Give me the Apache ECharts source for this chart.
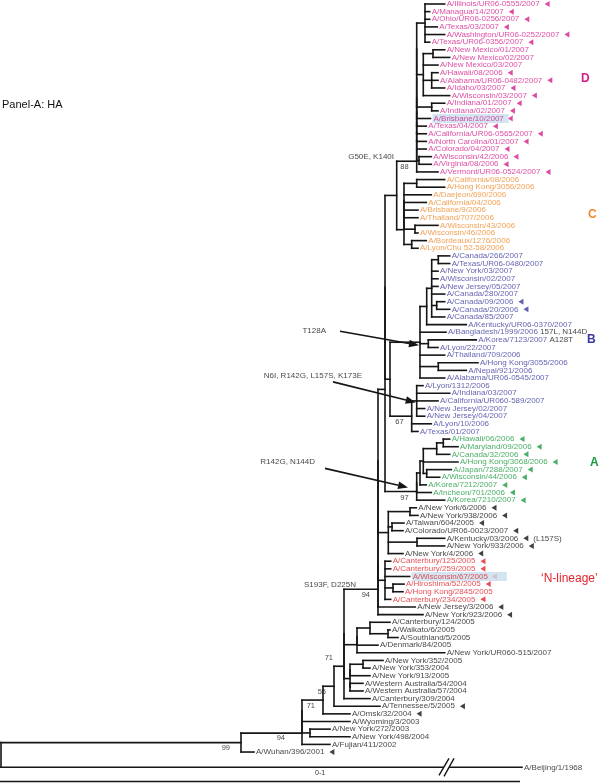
<!DOCTYPE html>
<html><head><meta charset="utf-8">
<script src="https://cdn.jsdelivr.net/npm/echarts@6/dist/echarts.min.js"></script>
<style>html,body{margin:0;padding:0;background:#fff}#c{width:600px;height:783px}</style>
</head><body><div id="c"></div>
<script>
// ================= DATA =================
// internal nodes: [id, parent, depth position on the distance axis]
const nodes = [
 ['root', null, 1],
 ['U1','root',241], ['U2','U1',302], ['U3','U2',302], ['U4','U3',302], ['NYq','U3',310],
 ['N71b','U4',323], ['N55','N71b',334], ['N71c','N55',344], ['Nz','N71c',344],
 ['CWSD','Nz',357], ['CWSD1','CWSD',357], ['CWS','CWSD1',370], ['WS','CWS',388],
 ['NYWA','Nz',350], ['NYg','NYWA',350], ['NY352p','NYg',363], ['WAg','NYWA',350],
 ['L6','Nz',378], ['L5','L6',378], ['L4','L5',378], ['L3','L4',378], ['L2','L3',385], ['L1','L2',385],
 ['R','L4',385], ['HH','R',393],
 ['K1','L3',388.3], ['NYp','K1',410], ['TC','K1',392], ['KN','K1',417],
 ['A','L2',416.7], ['A1','A',416.7], ['A2','A1',420], ['A3','A2',423.3], ['Ah','A3',436.7], ['HM','Ah',443.3], ['JW','A3',426.7],
 ['B','L1',390], ['B1','B',420], ['Bk','B1',426.7], ['Bc','Bk',431.7], ['CT','Bc',438.3], ['C09','Bc',436.7],
 ['KL','B1',428.3], ['HN','B1',438.3], ['B2','B',411.7], ['B2a','B2',416.7],
 ['DC','L1',396.7], ['C','DC',404], ['C1','C',404], ['C2','C1',404], ['CH','C2',416.7], ['WI','C1',415], ['BL','C',411.7],
 ['D','DC',416.7], ['D1','D',416.7], ['D2','D1',416.7], ['D3','D2',416.7], ['D4','D3',416.7], ['D5','D4',416.7],
 ['D6','D5',416.7], ['D7','D6',416.7], ['D8','D7',416.7], ['G1','D8',425], ['G2','D8',423.3],
 ['NMp','G2',433], ['HAI','G2',431.7], ['IND','D7',431.7], ['WV','D1',419]
];

// leaves in display order: [name, parent node, tip position, lineage, marked]
const leaves = [
 ['A/Illinois/UR06-0555/2007','G1',444.7,'D',1],
 ['A/Managua/14/2007','G1',429.7,'D',1],
 ['A/Ohio/UR06-0256/2007','G1',429.7,'D',1],
 ['A/Texas/03/2007','G1',437.3,'D',1],
 ['A/Washington/UR06-0252/2007','G1',444.7,'D',1],
 ['A/Texas/UR06-0356/2007','G1',429.7,'D',1],
 ['A/New Mexico/01/2007','NMp',444.7,'D',0],
 ['A/New Mexico/02/2007','NMp',449.7,'D',0],
 ['A/New Mexico/03/2007','G2',438,'D',0],
 ['A/Hawaii/08/2006','HAI',438,'D',1],
 ['A/Alabama/UR06-0482/2007','HAI',438,'D',1],
 ['A/Idaho/03/2007','HAI',444.7,'D',1],
 ['A/Wisconsin/03/2007','G2',449.7,'D',1],
 ['A/Indiana/01/2007','IND',444.7,'D',1],
 ['A/Indiana/02/2007','IND',438,'D',1],
 ['A/Brisbane/10/2007','D6',430.5,'D',1],
 ['A/Texas/04/2007','D5',426.3,'D',1],
 ['A/California/UR06-0565/2007','D4',426.3,'D',1],
 ['A/North Carolina/01/2007','D3',426.3,'D',1],
 ['A/Colorado/04/2007','D2',426.3,'D',1],
 ['A/Wisconsin/42/2006','WV',431.3,'D',1],
 ['A/Virginia/08/2006','WV',431.3,'D',1],
 ['A/Vermont/UR06-0524/2007','D',438,'D',1],
 ['A/California/08/2006','CH',444.7,'C',0],
 ['A/Hong Kong/3056/2006','CH',444.7,'C',0],
 ['A/Daejeon/690/2006','C2',431.3,'C',0],
 ['A/California/04/2006','C2',426.3,'C',0],
 ['A/Brisbane/9/2006','C2',418,'C',0],
 ['A/Thailand/707/2006','C2',418,'C',0],
 ['A/Wisconsin/43/2006','WI',438,'C',0],
 ['A/Wisconsin/46/2006','WI',418,'C',0],
 ['A/Bordeaux/1276/2006','BL',426.3,'C',0],
 ['A/Lyon/Chu 52-58/2006','BL',418,'C',0],
 ['A/Canada/266/2007','CT',449.7,'B',0],
 ['A/Texas/UR06-0480/2007','CT',449.7,'B',0],
 ['A/New York/03/2007','Bc',438,'B',0],
 ['A/Wisconsin/02/2007','Bc',438,'B',0],
 ['A/New Jersey/05/2007','Bc',438,'B',0],
 ['A/Canada/280/2007','Bc',444.7,'B',0],
 ['A/Canada/09/2006','C09',444.7,'B',1],
 ['A/Canada/20/2006','C09',449.7,'B',1],
 ['A/Canada/85/2007','Bc',444.7,'B',0],
 ['A/Kentucky/UR06-0370/2007','Bk',466.3,'B',0],
 ['A/Bangladesh/1999/2006','B1',446,'B',0],
 ['A/Korea/7123/2007','KL',476.3,'B',0],
 ['A/Lyon/22/2007','KL',438,'B',0],
 ['A/Thailand/709/2006','B1',444.7,'B',0],
 ['A/Hong Kong/3055/2006','HN',478,'B',0],
 ['A/Nepal/921/2006','HN',466.3,'B',0],
 ['A/Alabama/UR06-0545/2007','B1',444.7,'B',0],
 ['A/Lyon/1312/2006','B2a',423,'B',0],
 ['A/Indiana/03/2007','B2a',449.7,'B',0],
 ['A/California/UR060-589/2007','B2a',438,'B',0],
 ['A/New Jersey/02/2007','B2a',424.7,'B',0],
 ['A/New Jersey/04/2007','B2a',424.7,'B',0],
 ['A/Lyon/10/2006','B2',431.3,'B',0],
 ['A/Texas/01/2007','B2',418,'B',0],
 ['A/Hawaii/06/2006','HM',449.7,'A',1],
 ['A/Maryland/09/2006','HM',458,'A',1],
 ['A/Canada/32/2006','Ah',449.7,'A',1],
 ['A/Hong Kong/3068/2006','A3',458,'A',1],
 ['A/Japan/7288/2007','JW',451.3,'A',1],
 ['A/Wisconsin/44/2006','JW',439.7,'A',1],
 ['A/Korea/7212/2007','A2',426.3,'A',1],
 ['A/Incheon/701/2006','A1',431.3,'A',1],
 ['A/Korea/7210/2007','A',444.7,'A',1],
 ['A/New York/6/2006','NYp',416.3,'K',1],
 ['A/New York/938/2006','NYp',418,'K',1],
 ['A/Taiwan/604/2005','TC',404,'K',1],
 ['A/Colorado/UR06-0023/2007','TC',403,'K',1],
 ['A/Kentucky/03/2006','KN',444.7,'K',1],
 ['A/New York/933/2006','KN',444.7,'K',1],
 ['A/New York/4/2006','K1',403,'K',1],
 ['A/Canterbury/125/2005','R',390.7,'N',1],
 ['A/Canterbury/259/2005','R',390.7,'N',1],
 ['A/Wisconsin/67/2005','R',409.7,'N',1],
 ['A/Hiroshima/52/2005','HH',404,'N',1],
 ['A/Hong Kong/2845/2005','HH',403,'N',0],
 ['A/Canterbury/234/2005','R',390.7,'N',1],
 ['A/New Jersey/3/2006','L5',415.3,'K',1],
 ['A/New York/923/2006','L6',423,'K',1],
 ['A/Canterbury/124/2005','CWS',390,'K',0],
 ['A/Waikato/6/2005','WS',390,'K',0],
 ['A/Southland/5/2005','WS',398,'K',0],
 ['A/Denmark/84/2005','CWSD1',378,'K',0],
 ['A/New York/UR060-515/2007','CWSD',444.7,'K',0],
 ['A/New York/352/2005','NY352p',383,'K',0],
 ['A/New York/353/2004','NY352p',370,'K',0],
 ['A/New York/913/2005','NYg',370,'K',0],
 ['A/Western Australia/54/2004','WAg',363,'K',0],
 ['A/Western Australia/57/2004','WAg',363,'K',0],
 ['A/Canterbury/309/2004','N71c',370,'K',0],
 ['A/Tennessee/5/2005','N55',380,'K',1],
 ['A/Omsk/32/2004','N71b',350,'K',1],
 ['A/Wyoming/3/2003','U4',350,'K',0],
 ['A/New York/272/2003','NYq',330,'K',0],
 ['A/New York/498/2004','NYq',350,'K',0],
 ['A/Fujian/411/2002','U2',330,'K',0],
 ['A/Wuhan/396/2001','U1',254,'K',1],
 ['A/Beijing/1/1968','root',522,'K',0]
];

// notes written after some strain names
const noteLeaf = ['A/Bangladesh/1999/2006','A/Korea/7123/2007'];
const noteText = ['157L, N144D','A128T'];
const postMarkLeaf = ['A/Kentucky/03/2006'];
const postMarkText = ['(L157S)'];
const highlighted = ['A/Brisbane/10/2007','A/Wisconsin/67/2005'];

// bootstrap support values
const bootNode = ['U1','U2','N71b','N55','N71c','L6','A','B2','D'];
const bootValue = [99,94,71,55,71,94,97,67,88];

// amino-acid changes on branches
const mutText = ['G50E, K140I','S193F, D225N','T128A','N6I, R142G, L157S, K173E','R142G, N144D'];
const mutNode = ['D','L6','B1','B2a','A'];

// scale bar
const scaleLen = 520, scaleLabel = '0-1';

// ================= STYLE / LAYOUT =================
const colors = {D:'#d61d8c', C:'#f08a2c', B:'#3b399e', A:'#1c9a40', N:'#e4222b', K:'#111111'};
const FONT = '"Liberation Sans", Arial, Helvetica, sans-serif';
const FS = 8;
const LY = {row0Px: 4, pitch: 7.633, gap: 1, labelGap: 2, markGap: 5, markW: 5, lineW: 1.6,
  breakAt: 447, hiliteColor: '#c8dfec', hilitePadR: {'A/Brisbane/10/2007': 5, 'A/Wisconsin/67/2005': 19},
  mutTextOff: [[-22.7,-4.6],[-22,-4],[-94,-11.3],[-54.7,-25],[-101.7,-30]],
  mutArrow: [null, null, [[-80,-11],[-1,3]], [[-83.7,-19],[-1,1.5]], [[-91.7,-23],[-8.7,-4]]],
  bootOff: {def: [-8, 6], N71c: [-11, -8.5], U1: [-11, 5], U2: [-17, 5]}, scaleBarPx: 781.5};

// ================= BUILD =================
const map = {};
nodes.forEach(([id,p,x]) => { map[id] = {id, parent:p, x, children:[], leaf:false}; });
nodes.forEach(([id,p]) => { if (p) map[p].children.push(map[id]); });
const leafObjs = [];
let r = 0;
leaves.forEach((l,i) => {
  r += (i === leaves.length - 1) ? 1 + LY.gap : 1;
  const o = {id:l[0], parent:l[1], x:l[2], group:l[3], mark:l[4], leaf:true, row:r};
  map[l[1]].children.push(o); leafObjs.push(o);
});
function place(n){ if (n.leaf) return n.row; const rs = n.children.map(place);
  n.min = Math.min(...rs); n.max = Math.max(...rs); n.row = (n.min + n.max) / 2; return n.row; }
place(map.root);

const segs = [];
Object.values(map).forEach(n => {
  if (n.parent) segs.push([map[n.parent].x, n.row, n.x, n.row]);
  segs.push([n.x, n.min, n.x, n.max]);
});
leafObjs.forEach(l => segs.push([map[l.parent].x, l.row, l.x, l.row]));

const ctx = document.createElement('canvas').getContext('2d');
ctx.font = FS + 'px ' + FONT;
const tw = s => ctx.measureText(s).width;

const yMin = 1 - LY.row0Px / LY.pitch, yMax = yMin + 783 / LY.pitch;

const labelData = leafObjs.map(l => {
  const k = noteLeaf.indexOf(l.id);
  const hl = highlighted.includes(l.id);
  const lab = {
    formatter: '{n|' + l.id + '}' + (k >= 0 ? ' {e|' + noteText[k] + '}' : ''),
    rich: {n: {color: colors[l.group], fontSize: FS, fontFamily: FONT}, e: {color: colors.K, fontSize: FS, fontFamily: FONT}}
  };
  if (hl) { lab.backgroundColor = LY.hiliteColor; lab.padding = [1, LY.hilitePadR[l.id], 0, 1]; }
  return {value: [l.x, l.row], label: lab};
});
const markData = leafObjs.filter(l => l.mark).map(l => ({
  value: [l.x, l.row],
  symbolOffset: [LY.labelGap + tw(l.id) + LY.markGap + LY.markW / 2, 0],
  itemStyle: {color: colors[l.group]}
}));
const postData = leafObjs.filter(l => postMarkLeaf.includes(l.id)).map(l => ({
  value: [l.x, l.row],
  label: {formatter: postMarkText[postMarkLeaf.indexOf(l.id)],
          offset: [LY.labelGap + tw(l.id) + LY.markGap + LY.markW + 5, 0]}
}));
const bootData = bootNode.map((id,i) => ({value: [map[id].x, map[id].row],
  label: {formatter: String(bootValue[i]), offset: LY.bootOff[id] || LY.bootOff.def}}));
const mutData = mutNode.map((id,i) => ({value: [map[id].x, map[id].row],
  label: {formatter: mutText[i], offset: LY.mutTextOff[i]}}));
const arrowData = [];
mutNode.forEach((id,i) => { const a = LY.mutArrow[i]; if (a) arrowData.push([map[id].x, map[id].row, a[0][0], a[0][1], a[1][0], a[1][1]]); });

const beijing = leafObjs[leafObjs.length - 1];

const chart = echarts.init(document.getElementById('c'), null, {renderer: 'canvas'});
chart.setOption({
  animation: false,
  backgroundColor: '#fff',
  grid: {left: 0, right: 0, top: 0, bottom: 0},
  xAxis: {type: 'value', min: 0, max: 600, show: false},
  yAxis: {type: 'value', inverse: true, min: yMin, max: yMax, show: false},
  series: [
    { type: 'custom', data: segs, silent: true,
      renderItem: (p, api) => {
        const a = api.coord([api.value(0), api.value(1)]), b = api.coord([api.value(2), api.value(3)]);
        return {type: 'line', shape: {x1: a[0], y1: a[1], x2: b[0], y2: b[1]},
                style: {stroke: '#151515', lineWidth: LY.lineW, lineCap: 'square'}};
      } },
    { // break on outgroup branch and scale bar
      type: 'custom', data: [[LY.breakAt, beijing.row, scaleLen]], silent: true,
      renderItem: (p, api) => {
        const c = api.coord([api.value(0), api.value(1)]);
        const s0 = api.coord([0, 0])[0], s1 = api.coord([api.value(2), 0])[0];
        const st = {stroke: '#151515', lineWidth: 1.4};
        return {type: 'group', children: [
          {type: 'rect', shape: {x: c[0] - 3, y: c[1] - 2, width: 5, height: 4}, style: {fill: '#fff'}},
          {type: 'line', shape: {x1: c[0] - 8, y1: c[1] + 8, x2: c[0] + 2, y2: c[1] - 9}, style: st},
          {type: 'line', shape: {x1: c[0] - 3, y1: c[1] + 9, x2: c[0] + 7, y2: c[1] - 9}, style: st},
          {type: 'line', shape: {x1: s0, y1: LY.scaleBarPx, x2: s1, y2: LY.scaleBarPx}, style: {stroke: '#151515', lineWidth: 1.5}},
          {type: 'text', x: 315, y: LY.scaleBarPx - 8, style: {text: scaleLabel, fontSize: 7, fontFamily: FONT, fill: '#333', verticalAlign: 'middle'}}
        ]};
      } },
    { // arrows
      type: 'custom', data: arrowData, silent: true,
      renderItem: (p, api) => {
        const n = api.coord([api.value(0), api.value(1)]);
        const s = [n[0] + api.value(2), n[1] + api.value(3)], t = [n[0] + api.value(4), n[1] + api.value(5)];
        const dx = t[0] - s[0], dy = t[1] - s[1], L = Math.hypot(dx, dy), ux = dx / L, uy = dy / L;
        const hl = 10, hw = 3.8, bx = t[0] - ux * hl, by = t[1] - uy * hl;
        return {type: 'group', children: [
          {type: 'line', shape: {x1: s[0], y1: s[1], x2: bx, y2: by}, style: {stroke: '#151515', lineWidth: 1.7}},
          {type: 'polygon', shape: {points: [[t[0], t[1]], [bx - uy * hw, by + ux * hw], [bx + uy * hw, by - ux * hw]]}, style: {fill: '#151515'}}
        ]};
      } },
    { type: 'scatter', data: labelData, symbolSize: 0, silent: true,
      label: {show: true, position: 'right', distance: LY.labelGap, fontSize: FS, fontFamily: FONT} },
    { type: 'scatter', data: markData, symbol: 'triangle', symbolSize: [6, 5], symbolRotate: 90, silent: true },
    { type: 'scatter', data: postData, symbolSize: 0, silent: true,
      label: {show: true, position: 'inside', align: 'left', fontSize: FS, fontFamily: FONT, color: colors.K} },
    { type: 'scatter', data: bootData, symbolSize: 0, silent: true,
      label: {show: true, position: 'inside', align: 'right', fontSize: 7.5, fontFamily: FONT, color: colors.K} },
    { type: 'scatter', data: mutData, symbolSize: 0, silent: true,
      label: {show: true, position: 'inside', align: 'right', fontSize: FS, fontFamily: FONT, color: colors.K} }
  ],
  graphic: [
    {type: 'text', left: 2, top: 99, style: {text: 'Panel-A: HA', fontSize: 11, fontFamily: FONT, fill: colors.K}},
    {type: 'text', left: 581, top: 73, style: {text: 'D', fontSize: 12, fontWeight: 'bold', fontFamily: FONT, fill: colors.D}},
    {type: 'text', left: 588, top: 209, style: {text: 'C', fontSize: 12, fontWeight: 'bold', fontFamily: FONT, fill: colors.C}},
    {type: 'text', left: 587, top: 334, style: {text: 'B', fontSize: 12, fontWeight: 'bold', fontFamily: FONT, fill: colors.B}},
    {type: 'text', left: 590, top: 457, style: {text: 'A', fontSize: 12, fontWeight: 'bold', fontFamily: FONT, fill: colors.A}},
    {type: 'text', left: 541, top: 573, style: {text: '\u2018N-lineage\u2019', fontSize: 12, fontFamily: FONT, fill: colors.N}}
  ]
});
</script></body></html>
